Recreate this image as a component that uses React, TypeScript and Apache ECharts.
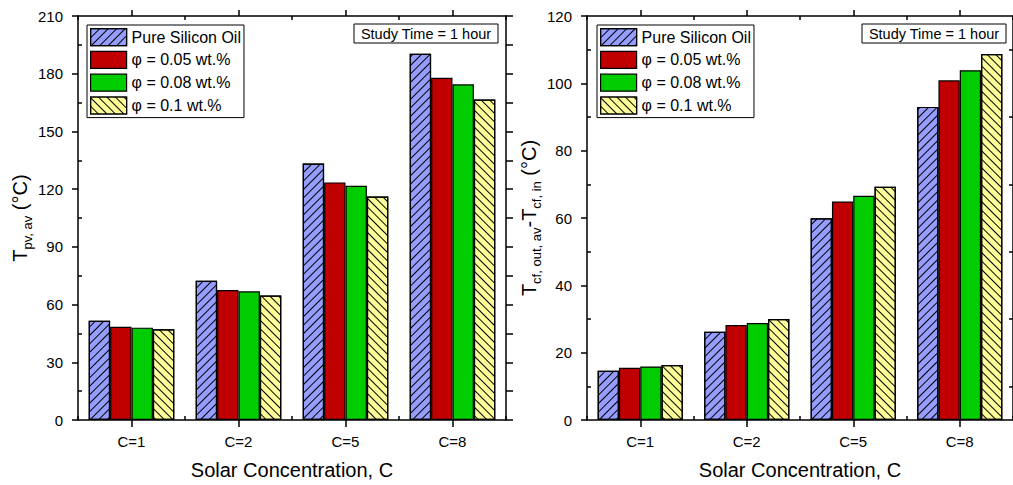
import React, { useEffect, useRef } from 'react';
import * as echarts from 'echarts';

const categories = ['C=1', 'C=2', 'C=5', 'C=8'];
const seriesNames = ['Pure Silicon Oil', 'φ = 0.05 wt.%', 'φ = 0.08 wt.%', 'φ = 0.1 wt.%'];

// Left chart: T_pv,av (°C)
const tpvPure = [51.6, 72.4, 133.3, 190.4];
const tpv005 = [48.5, 67.6, 123.5, 177.9];
const tpv008 = [48.0, 66.9, 121.8, 174.5];
const tpv01 = [47.2, 64.7, 116.2, 166.6];

// Right chart: T_cf,out,av - T_cf,in (°C)
const dtPure = [14.6, 26.2, 59.9, 93.0];
const dt005 = [15.5, 28.2, 64.9, 100.9];
const dt008 = [15.9, 28.8, 66.6, 103.9];
const dt01 = [16.3, 30.0, 69.3, 108.7];

const leftTicks = { min: 0, max: 210, interval: 30 };
const rightTicks = { min: 0, max: 120, interval: 20 };

const FONT = "'Liberation Sans', Arial, sans-serif";
const colors = ['#959DFF', '#C00000', '#00CC00', '#FFFF99'];

const hatchFwd = {
  symbol: 'rect',
  symbolSize: 1,
  dashArrayX: [1, 0],
  dashArrayY: [1, 5],
  rotation: -Math.PI / 4,
  color: '#000',
};
const hatchBack = { ...hatchFwd, rotation: Math.PI / 4 };
const decals: any[] = [hatchFwd, null, null, hatchBack];

const axisLineStyle = { color: '#000', width: 1.5 };

function xAxes(gridIndex: number) {
  const base = { type: 'category', gridIndex, data: categories };
  return [
    {
      ...base,
      position: 'bottom',
      axisLine: { show: true, onZero: false, lineStyle: axisLineStyle },
      axisTick: { show: true, alignWithLabel: true, length: 7, lineStyle: axisLineStyle },
      axisLabel: { show: true, fontSize: 15, color: '#000', fontFamily: FONT, margin: 14 },
      name: 'Solar Concentration, C',
      nameLocation: 'middle',
      nameGap: 40,
      nameTextStyle: { fontSize: 20, color: '#000', fontFamily: FONT },
    },
    {
      ...base,
      position: 'bottom',
      axisLine: { show: false, onZero: false },
      axisTick: { show: true, inside: true, length: 4, lineStyle: axisLineStyle },
      axisLabel: { show: false },
    },
    {
      ...base,
      position: 'top',
      axisLine: { show: true, onZero: false, lineStyle: axisLineStyle },
      axisTick: { show: true, alignWithLabel: true, length: 6, lineStyle: axisLineStyle },
      axisLabel: { show: false },
    },
    {
      ...base,
      position: 'top',
      axisLine: { show: false, onZero: false },
      axisTick: { show: true, inside: true, length: 4, lineStyle: axisLineStyle },
      axisLabel: { show: false },
    },
  ];
}

function yAxes(gridIndex: number, ticks: any, name: string, rich: any, nameGap: number, rightTickInterval: number | null) {
  const base = { type: 'value', gridIndex, min: ticks.min, max: ticks.max, splitLine: { show: false } };
  const right: any = rightTickInterval
    ? {
        ...base,
        interval: rightTickInterval,
        position: 'right',
        axisLine: { show: true, lineStyle: axisLineStyle },
        axisTick: { show: true, length: 7, lineStyle: axisLineStyle },
        axisLabel: { show: false },
      }
    : {
        ...base,
        interval: ticks.interval,
        position: 'right',
        axisLine: { show: true, lineStyle: axisLineStyle },
        axisTick: { show: false, inside: true },
        minorTick: { show: true, splitNumber: 2, length: 4, lineStyle: axisLineStyle },
        axisLabel: { show: false },
      };
  return [
    {
      ...base,
      interval: ticks.interval,
      position: 'left',
      axisLine: { show: true, lineStyle: axisLineStyle },
      axisTick: { show: true, length: 6, lineStyle: axisLineStyle },
      axisLabel: { show: true, fontSize: 15, color: '#000', fontFamily: FONT, margin: 15 },
      name,
      nameLocation: 'middle',
      nameRotate: 90,
      nameGap,
      nameTextStyle: { color: '#000', fontFamily: FONT, rich },
    },
    {
      ...base,
      interval: ticks.interval,
      position: 'left',
      axisLine: { show: false },
      axisTick: { show: false, inside: true },
      minorTick: { show: true, splitNumber: 2, length: 4, lineStyle: axisLineStyle },
      axisLabel: { show: false },
    },
    right,
  ];
}

const nameRich = {
  t: { fontSize: 20, lineHeight: 20, verticalAlign: 'top', fontFamily: FONT, color: '#000' },
  s: { fontSize: 13, lineHeight: 13, padding: [15, 0, 0, 0], fontFamily: FONT, color: '#000' },
};

function barSeries(values: number[][], xAxisIndex: number, yAxisIndex: number) {
  return values.map((data, i) => ({
    type: 'bar',
    name: seriesNames[i],
    xAxisIndex,
    yAxisIndex,
    data,
    barGap: '0%',
    barCategoryGap: '20%',
    itemStyle: {
      color: colors[i],
      borderColor: '#000',
      borderWidth: 1.2,
      ...(decals[i] ? { decal: decals[i] } : {}),
    },
  }));
}

function legend(left: number) {
  return {
    orient: 'vertical',
    left,
    top: 25,
    itemWidth: 36,
    itemHeight: 17,
    itemGap: 4.6,
    padding: 3,
    borderColor: '#000',
    borderWidth: 1,
    icon: 'rect',
    selectedMode: false,
    data: seriesNames,
    itemStyle: { borderColor: '#000', borderWidth: 1.2 },
    textStyle: { fontSize: 16, color: '#000', fontFamily: FONT },
  };
}

function studyBox(x: number) {
  return [
    {
      type: 'rect',
      shape: { x, y: 24, width: 144, height: 19 },
      style: { fill: '#fff', stroke: '#000', lineWidth: 1 },
      z: 10,
    },
    {
      type: 'text',
      x: x + 72,
      y: 33.5,
      style: {
        text: 'Study Time = 1 hour',
        align: 'center',
        verticalAlign: 'middle',
        font: `14.5px ${FONT}`,
        fill: '#000',
      },
      z: 11,
    },
  ];
}

export default function App() {
  const ref = useRef<HTMLDivElement>(null);
  useEffect(() => {
    if (!ref.current) return;
    const chart = echarts.init(ref.current, undefined, { renderer: 'svg' });
    const option: any = {
      animation: false,
      backgroundColor: '#fff',
      grid: [
        { left: 78, top: 16, width: 428, height: 408 },
        { left: 587, top: 16, width: 426.5, height: 408 },
      ],
      xAxis: [...xAxes(0), ...xAxes(1)],
      yAxis: [
        ...yAxes(0, leftTicks, '{t|T}{s|pv, av}{t| (°C)}', nameRich, 42, 15),
        ...yAxes(1, rightTicks, '{t|T}{s|cf, out, av}{t|-T}{s|cf, in}{t| (°C)}', nameRich, 33, null),
      ],
      legend: [legend(87), legend(597)],
      series: [
        ...barSeries([tpvPure, tpv005, tpv008, tpv01], 0, 0),
        ...barSeries([dtPure, dt005, dt008, dt01], 4, 3),
      ],
      graphic: [...studyBox(354), ...studyBox(862)],
    };
    chart.setOption(option);
    return () => chart.dispose();
  }, []);
  return (
    <div
      ref={ref}
      style={{ position: 'fixed', left: 0, top: 0, width: 1013, height: 485, background: '#fff' }}
    />
  );
}
